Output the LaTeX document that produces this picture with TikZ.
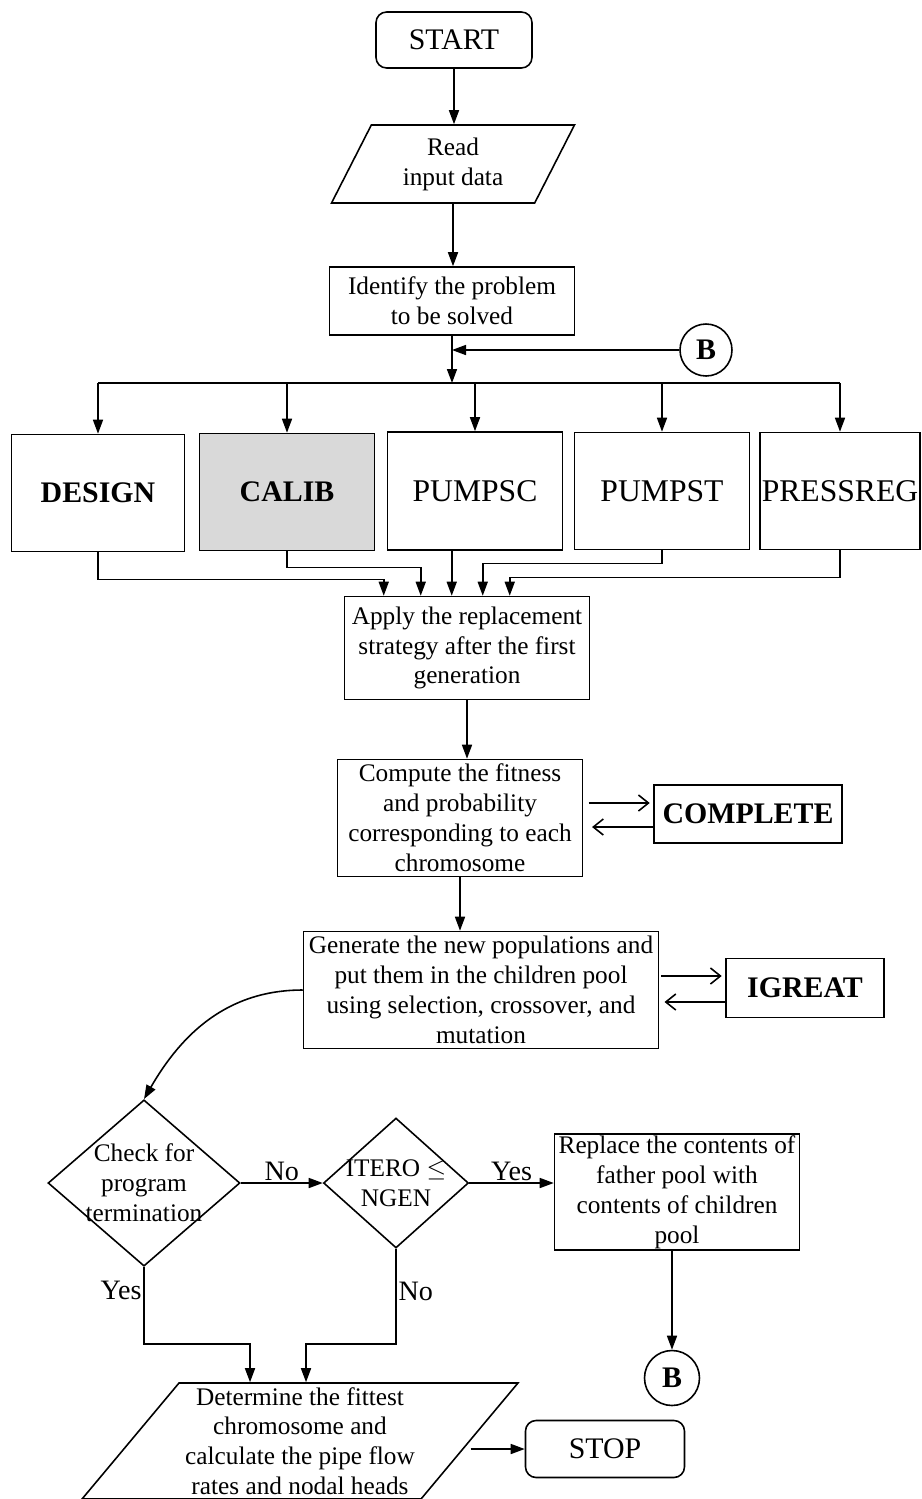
\documentclass[tikz,border=0pt]{standalone}
\usepackage{fontspec}
\setmainfont{Liberation Serif}
\usetikzlibrary{shapes.geometric,arrows.meta,calc}

\newcommand\bodyfont{\fontsize{14.4}{17}\selectfont}
\newcommand\termfont{\fontsize{17}{20}\selectfont}
\newcommand\tagfont{\fontsize{17}{20}\selectfont\bfseries}
\newcommand\modfont{\fontsize{18}{21}\selectfont}

\tikzset{
  proc/.style={draw, line width=0.9pt, align=center, inner sep=1pt, font=\bodyfont},
  term/.style={proc, rounded corners=6pt, font=\termfont},
  io/.style={proc, trapezium, trapezium stretches body, inner sep=0pt},
  decision/.style={proc, diamond, inner sep=-4pt},
  tag/.style={proc, font=\tagfont},
  module/.style={proc, font=\modfont},
  conn/.style={draw, circle, line width=0.9pt, inner sep=0pt, font=\tagfont},
  arr/.style={line width=0.9pt, -{Triangle[length=2.8mm,width=2mm]}},
  barb/.style={line width=0.9pt, -{Straight Barb[length=2mm,width=3.2mm]}},
  lbl/.style={font=\fontsize{16}{18}\selectfont, inner sep=1pt}
}

\begin{document}
\begin{tikzpicture}[x=0.02cm, y=-0.02cm]
	\useasboundingbox (0,0) rectangle (921,1499);

	% top of the chart
	\node[term, minimum width=3.12cm, minimum height=1.12cm] (start) at (454,40) {START};
	\node[io, trapezium left angle=53, trapezium right angle=127,
		minimum width=4.86cm, minimum height=1.56cm] (read) at (453,164) {Read\\input data};
	\node[proc, minimum width=4.9cm, minimum height=1.36cm] (ident) at (452,301) {Identify the problem\\to be solved};
	\node[conn, minimum size=1.04cm] (btop) at (706,350) {B};

	% the five problem types
	\node[tag, minimum width=3.46cm, minimum height=2.34cm] (design) at (98,493) {DESIGN};
	\node[tag, fill=black!15, minimum width=3.5cm, minimum height=2.34cm] (calib) at (287,492) {CALIB};
	\node[module, minimum width=3.5cm, minimum height=2.36cm] (pumpsc) at (475,491) {PUMPSC};
	\node[module, minimum width=3.5cm, minimum height=2.34cm] (pumpst) at (662,491) {PUMPST};
	\node[module, minimum width=3.2cm, minimum height=2.34cm, inner sep=0pt] (pressreg) at (840,491) {PRESSREG};

	% GA loop
	\node[proc, minimum width=4.9cm, minimum height=2.06cm] (apply) at (467,648)
		{Apply the replacement\\strategy after the first\\generation};
	\node[proc, minimum width=4.9cm, minimum height=2.34cm] (compute) at (460,818)
		{Compute the fitness\\and probability\\corresponding to each\\chromosome};
	\node[tag, minimum width=3.76cm, minimum height=1.16cm] (complete) at (748,814) {COMPLETE};
	\node[proc, minimum width=7.1cm, minimum height=2.34cm] (gen) at (481,990)
		{Generate the new populations and\\put them in the children pool\\using selection, crossover, and\\mutation};
	\node[tag, minimum width=3.16cm, minimum height=1.18cm] (igreat) at (805,988) {IGREAT};

	% decisions
	\node[decision, minimum width=3.84cm, minimum height=3.32cm] (check) at (144,1183)
		{Check for\\program\\termination};
	\node[decision, minimum width=2.9cm, minimum height=2.6cm] (itero) at (396,1183)
		{ITERO $\leq$\\NGEN};
	\node[proc, minimum width=4.9cm, minimum height=2.3cm] (replace) at (677,1192)
		{Replace the contents of\\father pool with\\contents of children\\pool};
	\node[conn, minimum size=1.1cm] (bbot) at (672,1378) {B};

	% end
	\node[io, trapezium left angle=48, trapezium right angle=132,
		minimum width=8.72cm, minimum height=2.32cm] (final) at (300,1441)
		{Determine the fittest\\chromosome and\\calculate the pipe flow\\rates and nodal heads};
	\node[term, minimum width=3.18cm, minimum height=1.14cm] (stop) at (605,1449) {STOP};

	\coordinate (bus) at (452,383);
	\foreach \n/\dx in {a/40,b/77,c/108,d/139,e/166}
		\coordinate (in\n) at ($(apply.north west)+(\dx,0)$);
	\coordinate (fa) at ($(final.north)+(-50,0)$);
	\coordinate (fb) at ($(final.north)+(6,0)$);

	\draw[arr] (start) -- (start.south |- read.north);
	\draw[arr] (read) -- (read.south |- ident.north);
	\draw[arr] (btop) -- (ident.south |- btop);
	\draw[arr] (ident.south) -- (bus);
	\draw[line width=0.9pt] (design.north |- bus) -- (pressreg.north |- bus);
	\foreach \b in {design,calib,pumpsc,pumpst,pressreg}
		\draw[arr] (\b.north |- bus) -- (\b.north);

	\draw[arr] (design.south) -- ++(0,27) -| (ina);
	\draw[arr] (calib.south) -- ++(0,16) -| (inb);
	\draw[arr] (pumpsc.south -| inc) -- (inc);
	\draw[arr] (pumpst.south) -- ++(0,13) -| (ind);
	\draw[arr] (pressreg.south) -- ++(0,27) -| (ine);

	\draw[arr] (apply.south) -- (apply.south |- compute.north);
	\draw[arr] (compute.south) -- (compute.south |- gen.north);

	\coordinate (c1) at ($(compute.east)+(0,-15)$);
	\coordinate (c2) at ($(compute.east)+(0,9)$);
	\draw[barb, shorten <=3pt, shorten >=2pt] (c1) -- (c1 -| complete.west);
	\draw[barb, shorten <=0pt, shorten >=5pt] (c2 -| complete.west) -- (c2);
	\coordinate (g1) at ($(gen.east)+(0,-14)$);
	\coordinate (g2) at ($(gen.east)+(0,12)$);
	\draw[barb, shorten <=1pt, shorten >=2pt] (g1) -- (g1 -| igreat.west);
	\draw[barb, shorten >=3pt] (g2 -| igreat.west) -- (g2);

	\draw[arr] (gen.west) to[out=180, in=60] (check.north);
	\draw[arr] (check.east) -- node[lbl, above] {No} (itero.west);
	\draw[arr] (itero.east) -- node[lbl, above] {Yes} (itero.east -| replace.west);
	\draw[arr] (bbot.north |- replace.south) -- (bbot.north);

	\draw[arr] (check.south) -- node[lbl, left, pos=0.3] {Yes} ++(0,77) -| (fa);
	\draw[arr] (itero.south) -- node[lbl, right, pos=0.45] {No} ++(0,95) -| (fb);
	\draw[arr] (stop.west -| final.east) -- (stop.west);
\end{tikzpicture}
\end{document}
